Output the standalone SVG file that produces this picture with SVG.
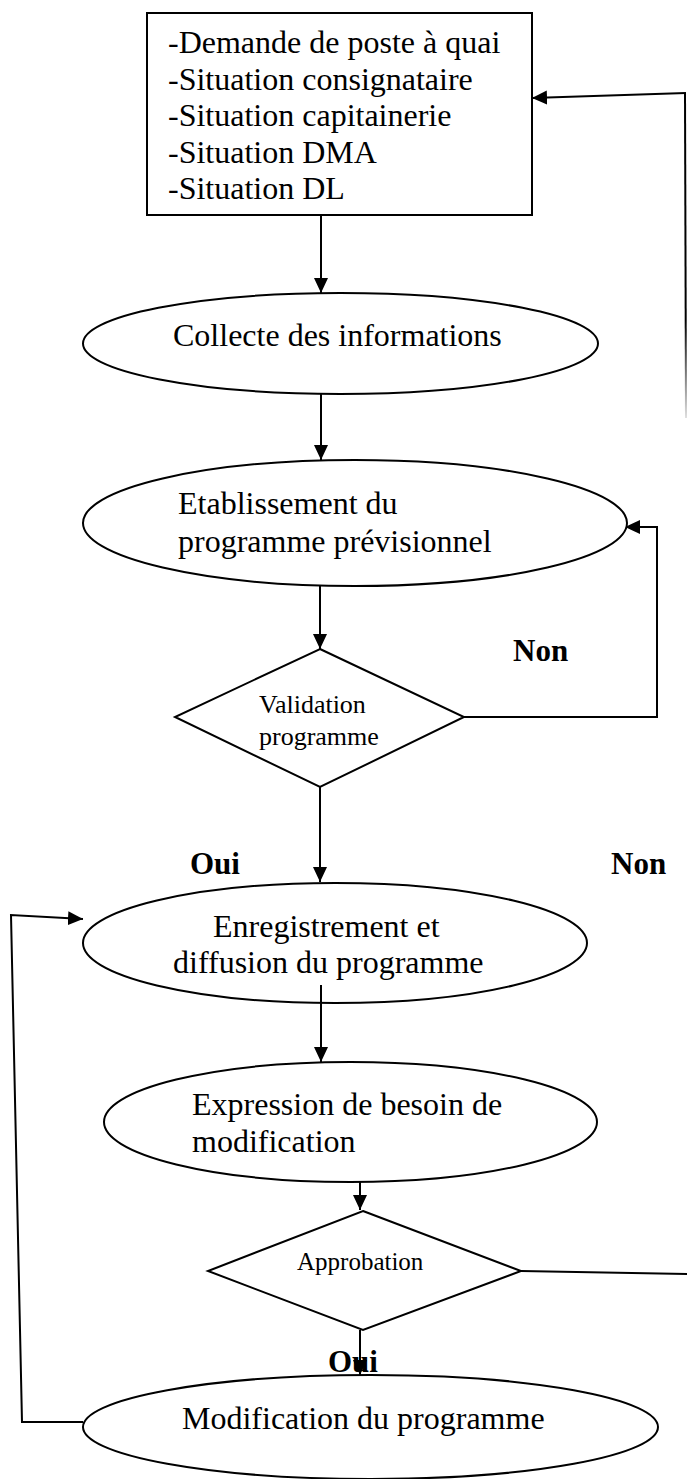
<svg xmlns="http://www.w3.org/2000/svg" width="687" height="1479" viewBox="0 0 687 1479">
  <style>
    .shape { fill: #ffffff; stroke: #000000; stroke-width: 2; }
    .line { fill: none; stroke: #000000; stroke-width: 2; }
    .txt { font-family: "Liberation Serif", "Times New Roman", serif; font-size: 32px; fill: #000000; }
    .small { font-size: 26px; }
    .lbl { font-family: "Liberation Serif", "Times New Roman", serif; font-size: 31px; font-weight: bold; fill: #000000; }
  </style>
  <defs>
    <marker id="arrow" markerUnits="userSpaceOnUse" markerWidth="16" markerHeight="16" refX="15" refY="7" orient="auto">
      <path d="M0,0 L15,7 L0,14 Z" fill="#000000"/>
    </marker>
    <linearGradient id="fade" gradientUnits="userSpaceOnUse" x1="0" y1="93" x2="0" y2="418">
      <stop offset="0" stop-color="#000000"/>
      <stop offset="0.7" stop-color="#000000"/>
      <stop offset="1" stop-color="#e0e0e0"/>
    </linearGradient>
  </defs>

  <!-- connectors -->
  <g id="connectors">
    <line class="line" x1="321" y1="215" x2="321" y2="293" marker-end="url(#arrow)"/>
    <line class="line" x1="321" y1="394" x2="321" y2="460" marker-end="url(#arrow)"/>
    <line class="line" x1="320" y1="586" x2="320" y2="649" marker-end="url(#arrow)"/>
    <!-- validation refused: back to the forecast programme -->
    <polyline class="line" points="464,717 657,717 657,527 625,527" marker-end="url(#arrow)"/>
    <line class="line" x1="320" y1="787" x2="320" y2="882" marker-end="url(#arrow)"/>
    <line class="line" x1="321" y1="985" x2="321" y2="1062" marker-end="url(#arrow)"/>
    <line class="line" x1="360" y1="1182" x2="360" y2="1210" marker-end="url(#arrow)"/>
    <line class="line" x1="360" y1="1330" x2="360" y2="1375" marker-end="url(#arrow)"/>
    <!-- approbation refused -->
    <line class="line" x1="521" y1="1271" x2="687" y2="1274"/>
    <!-- modified programme goes back to registration -->
    <polyline class="line" points="83,1422 22,1422 11,915 83,919" marker-end="url(#arrow)"/>
    <!-- loop back to the input sources -->
    <line x1="685" y1="93" x2="686" y2="418" stroke="url(#fade)" stroke-width="2"/>
    <line class="line" x1="686" y1="93" x2="532" y2="98" marker-end="url(#arrow)"/>
  </g>

  <g id="inputs">
    <rect class="shape" x="147" y="13" width="385" height="202"/>
    <text class="txt" x="168" y="53">-Demande de poste à quai</text>
    <text class="txt" x="168" y="89.5">-Situation consignataire</text>
    <text class="txt" x="168" y="126">-Situation capitainerie</text>
    <text class="txt" x="168" y="162.5">-Situation DMA</text>
    <text class="txt" x="168" y="199">-Situation DL</text>
  </g>

  <g id="collecte">
    <ellipse class="shape" cx="340.5" cy="343.5" rx="257.5" ry="50.5"/>
    <text class="txt" x="173" y="346">Collecte des informations</text>
  </g>

  <g id="etablissement">
    <ellipse class="shape" cx="355" cy="523" rx="272" ry="63"/>
    <text class="txt" x="178" y="514">Etablissement du</text>
    <text class="txt" x="178" y="552">programme prévisionnel</text>
  </g>

  <g id="validation">
    <polygon class="shape" points="320,649 464,717 320,787 175,717"/>
    <text class="txt small" x="259" y="713">Validation</text>
    <text class="txt small" x="259" y="745">programme</text>
  </g>

  <g id="labels">
    <text class="lbl" x="513" y="661">Non</text>
    <text class="lbl" x="190" y="874">Oui</text>
    <text class="lbl" x="611" y="874">Non</text>
  </g>

  <g id="enregistrement">
    <ellipse class="shape" cx="335" cy="943" rx="252" ry="60"/>
    <text class="txt" x="213" y="937">Enregistrement et</text>
    <text class="txt" x="173" y="973">diffusion du programme</text>
    <line class="line" x1="321" y1="985" x2="321" y2="1003"/>
  </g>

  <g id="expression">
    <ellipse class="shape" cx="350.5" cy="1122" rx="246.5" ry="60"/>
    <text class="txt" x="192" y="1115">Expression de besoin de</text>
    <text class="txt" x="192" y="1152">modification</text>
  </g>

  <g id="approbation">
    <polygon class="shape" points="363,1211 521,1271 363,1330 208,1271"/>
    <text class="txt" style="font-size:25px" x="297" y="1270">Approbation</text>
  </g>

  <g id="modification">
    <ellipse class="shape" cx="370.5" cy="1427" rx="287.5" ry="52"/>
    <text class="txt" x="182" y="1429">Modification du programme</text>
  </g>

  <text class="lbl" x="328" y="1372">Oui</text>
</svg>
